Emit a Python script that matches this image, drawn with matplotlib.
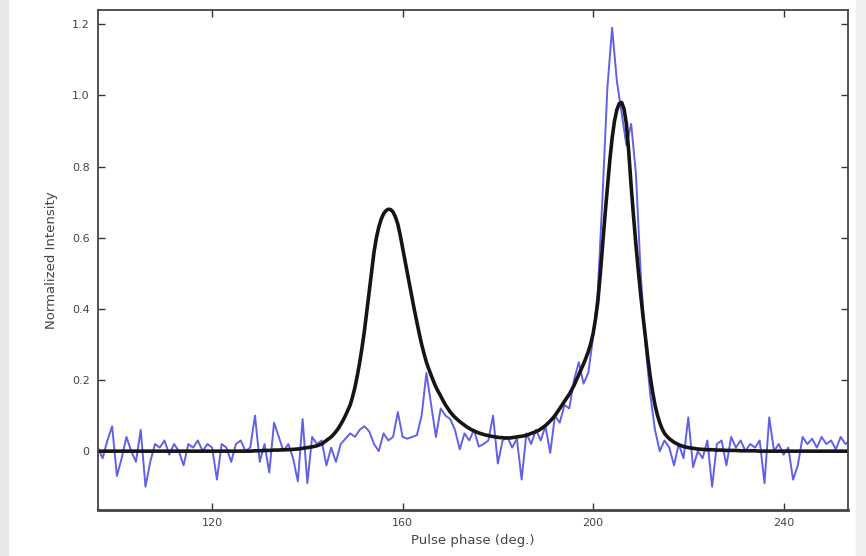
import numpy as np
import matplotlib
matplotlib.use("Agg")
import matplotlib.pyplot as plt
from matplotlib.patches import Rectangle

# pulse phase grid (deg.) of the observed profile, 1 deg steps
phase = np.arange(96, 255)

# observed profile (blue, noisy)
observed = [
    0.01, -0.02, 0.03, 0.07, -0.07, -0.02, 0.04, 0.0, -0.03, 0.06,      # 96-105
    -0.10, -0.03, 0.02, 0.01, 0.03, -0.01, 0.02, 0.0, -0.04, 0.02,      # 106-115
    0.01, 0.03, 0.0, 0.02, 0.01, -0.08, 0.02, 0.01, -0.03, 0.02,        # 116-125
    0.03, 0.0, 0.01, 0.10, -0.03, 0.02, -0.06, 0.08, 0.04, 0.0,         # 126-135
    0.02, -0.02, -0.085, 0.09, -0.09, 0.04, 0.02, 0.03, -0.04, 0.01,    # 136-145
    -0.03, 0.02, 0.035, 0.05, 0.04, 0.06, 0.07, 0.055, 0.02, 0.0,       # 146-155
    0.05, 0.03, 0.04, 0.11, 0.04, 0.035, 0.04, 0.045, 0.10, 0.22,       # 156-165
    0.13, 0.04, 0.12, 0.10, 0.09, 0.06, 0.005, 0.05, 0.03, 0.06,        # 166-175
    0.013, 0.02, 0.03, 0.10, -0.035, 0.03, 0.04, 0.01, 0.035, -0.08,    # 176-185
    0.05, 0.02, 0.06, 0.03, 0.07, -0.005, 0.10, 0.08, 0.13, 0.12,       # 186-195
    0.20, 0.25, 0.19, 0.22, 0.32, 0.45, 0.72, 1.02, 1.19, 1.04,         # 196-205
    0.95, 0.86, 0.92, 0.78, 0.50, 0.30, 0.16, 0.06, 0.0, 0.03,          # 206-215
    0.01, -0.04, 0.02, -0.02, 0.095, -0.045, 0.0, -0.02, 0.03, -0.10,   # 216-225
    0.02, 0.03, -0.04, 0.04, 0.01, 0.03, 0.0, 0.02, 0.01, 0.03,         # 226-235
    -0.09, 0.095, 0.0, 0.02, -0.01, 0.01, -0.08, -0.04, 0.04, 0.02,     # 236-245
    0.035, 0.01, 0.04, 0.02, 0.03, 0.005, 0.04, 0.02, 0.03,             # 246-254
]

# model profile grid: finer (0.5 deg) across the two components
model_phase = np.concatenate([np.arange(96, 144.5, 1.0),
                              np.arange(144.5, 216.5, 0.5),
                              np.arange(217, 255, 1.0)])

# model profile (black, smooth)
model = [
    # 96-144, 1 deg
    0.0, 0.0, 0.0, 0.0, 0.0, 0.0, 0.0, 0.0, 0.0, 0.0,
    0.0, 0.0, 0.0, 0.0, 0.0, 0.0, 0.0, 0.0, 0.0, 0.0,
    0.0, 0.0, 0.0, 0.0, 0.0, 0.0, 0.0, 0.0, 0.0, 0.0,
    0.0, 0.0, 0.0, 0.001, 0.001, 0.002, 0.002, 0.003, 0.003, 0.004,
    0.004, 0.005, 0.006, 0.008, 0.010, 0.012, 0.015, 0.020, 0.030,
    # 144.5-216, 0.5 deg
    0.035, 0.040, 0.047, 0.055, 0.064, 0.075, 0.087, 0.100, 0.115, 0.130,
    0.153, 0.180, 0.213, 0.250, 0.293, 0.340, 0.395, 0.450, 0.507, 0.560,
    0.600, 0.630, 0.652, 0.667, 0.676, 0.680, 0.679, 0.672, 0.658, 0.638,
    0.607, 0.572, 0.536, 0.500, 0.465, 0.430, 0.395, 0.362, 0.330, 0.300,
    0.274, 0.250, 0.231, 0.213, 0.196, 0.180, 0.167, 0.155, 0.142, 0.130,
    0.120, 0.110, 0.102, 0.095, 0.089, 0.083, 0.078, 0.073, 0.068, 0.064,
    0.060, 0.057, 0.054, 0.051, 0.049, 0.047, 0.045, 0.044, 0.042, 0.041,
    0.040, 0.039, 0.038, 0.038, 0.037, 0.037, 0.037, 0.038, 0.039, 0.040,
    0.041, 0.042, 0.043, 0.045, 0.047, 0.050, 0.052, 0.055, 0.058, 0.062,
    0.067, 0.072, 0.078, 0.085, 0.092, 0.100, 0.110, 0.120, 0.130, 0.140,
    0.150, 0.160, 0.172, 0.185, 0.200, 0.215, 0.230, 0.245, 0.262, 0.280,
    0.302, 0.330, 0.370, 0.420, 0.495, 0.580, 0.662, 0.740, 0.815, 0.880,
    0.928, 0.960, 0.977, 0.980, 0.962, 0.920, 0.840, 0.745, 0.660, 0.580,
    0.508, 0.440, 0.378, 0.320, 0.262, 0.210, 0.167, 0.130, 0.102, 0.080,
    0.063, 0.050, 0.042, 0.035,
    # 217-254, 1 deg
    0.025, 0.018, 0.013, 0.010, 0.008, 0.006, 0.005, 0.004, 0.004, 0.003,
    0.003, 0.002, 0.002, 0.002, 0.001, 0.001, 0.001, 0.001, 0.0, 0.0,
    0.0, 0.0, 0.0, 0.0, 0.0, 0.0, 0.0, 0.0, 0.0, 0.0,
    0.0, 0.0, 0.0, 0.0, 0.0, 0.0, 0.0, 0.0,
]

xticks = [120, 160, 200, 240]
yticks = [0, 0.2, 0.4, 0.6, 0.8, 1.0, 1.2]
ytick_labels = ['0', '0.2', '0.4', '0.6', '0.8', '1.0', '1.2']

fig = plt.figure(figsize=(8.66, 5.56), dpi=100, facecolor='white')
# grey edge strips like the scanned figure
fig.add_artist(Rectangle((0, 0), 0.009, 1, transform=fig.transFigure,
                         color='#e8e8e8', zorder=0))
fig.add_artist(Rectangle((0.988, 0), 0.012, 1, transform=fig.transFigure,
                         color='#efefef', zorder=0))

ax = fig.add_axes([0.113, 0.083, 0.866, 0.899])
ax.plot(phase, observed, color='#5050e6', lw=1.4, alpha=0.9)
ax.plot(model_phase, model, color='#151515', lw=2.6)

ax.set_xlim(96, 253.5)
ax.set_ylim(-0.165, 1.24)
ax.set_xticks(xticks)
ax.set_yticks(yticks)
ax.set_yticklabels(ytick_labels)
ax.tick_params(direction='in', top=True, right=True, length=5, width=1,
               colors='#333333', labelsize=8, labelcolor='#444444', pad=6)
for s in ax.spines.values():
    s.set_color('#444444')
    s.set_linewidth(1.3)
ax.spines['bottom'].set_linewidth(2.0)

ax.set_xlabel('Pulse phase (deg.)', fontsize=9.5, color='#444444', labelpad=4)
ax.set_ylabel('Normalized Intensity', fontsize=9.5, color='#444444', labelpad=10)

plt.savefig('out.png', dpi=100, facecolor=fig.get_facecolor())
